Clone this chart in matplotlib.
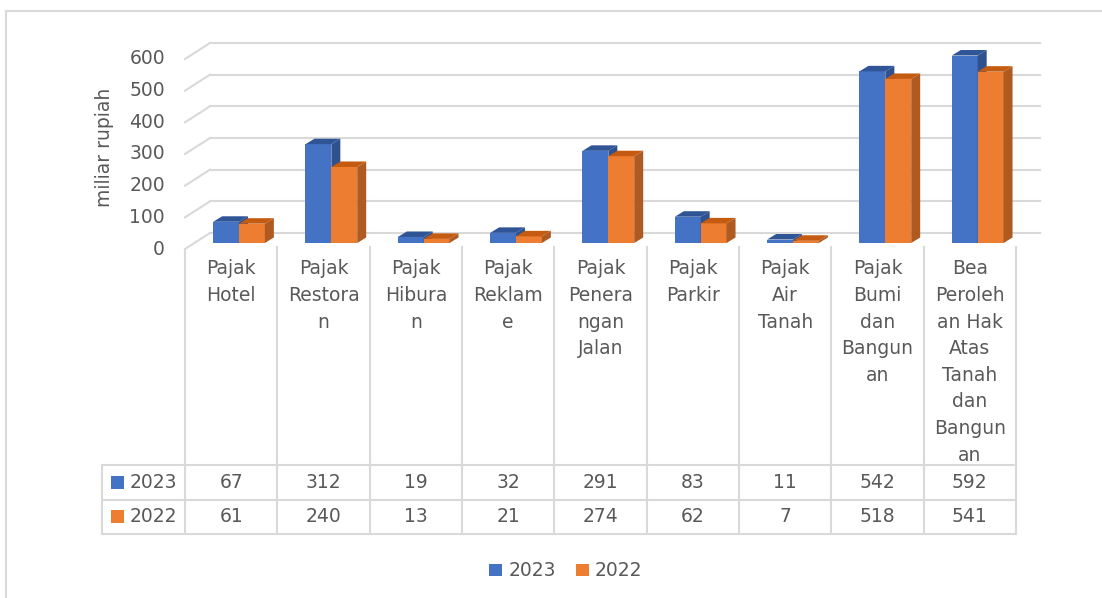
import matplotlib
matplotlib.use('Agg')

import matplotlib.pyplot as plt
from matplotlib.patches import Polygon, Rectangle
from matplotlib.lines import Line2D

categories = ["Pajak\nHotel", "Pajak\nRestora\nn", "Pajak\nHibura\nn", "Pajak\nReklam\ne",
              "Pajak\nPenera\nngan\nJalan", "Pajak\nParkir", "Pajak\nAir\nTanah",
              "Pajak\nBumi\ndan\nBangun\nan",
              "Bea\nPeroleh\nan Hak\nAtas\nTanah\ndan\nBangun\nan"]
series_names = ["2023", "2022"]
values_2023 = [67, 312, 19, 32, 291, 83, 11, 542, 592]
values_2022 = [61, 240, 13, 21, 274, 62, 7, 518, 541]
yticks = [0, 100, 200, 300, 400, 500, 600]

W, H = 1102, 598
front_colors = ["#4472C4", "#ED7D31"]
side_colors = ["#2F528F", "#AE5A21"]
top_colors = ["#2F5597", "#C55A11"]
txt = "#595959"
grid = "#D9D9D9"
fs = 13.5


def fx(px):
    return px / W


def fy(py):
    return 1 - py / H


fig = plt.figure(figsize=(W / 100, H / 100), dpi=100)
fig.patch.set_facecolor("white")

# chart border (only left and top visible in the crop)
fig.add_artist(Line2D([fx(6), fx(6)], [fy(11), 0], color=grid, lw=1.5))
fig.add_artist(Line2D([fx(6), 1], [fy(11), fy(11)], color=grid, lw=1.5))

# plot area: x from 185 to 1016 px, y from 40 to 250 px
ax = fig.add_axes([fx(185), fy(250), fx(1016) - fx(185), fy(40) - fy(250)])
n = len(categories)
ax.set_xlim(-0.5, n - 0.5)
ax.set_ylim(-22.1, 641.0)
ax.axis("off")

upx = n / (1016 - 185)            # x data units per pixel
vpx = (641.0 + 22.1) / 210        # y data units per pixel

back_dx, back_dy = 25 * upx, 10 * vpx
front_dy = -6 * vpx

# gridlines with 3d left wall
for v in yticks:
    ax.plot([-0.5 + back_dx, n - 0.5 + 24 * upx], [v + back_dy, v + back_dy],
            color=grid, lw=1.5, zorder=1, clip_on=False)
    ax.plot([-0.5, -0.5 + back_dx], [v + front_dy, v + back_dy],
            color=grid, lw=1.5, zorder=1, clip_on=False)
    ax.text(-0.5 - 20 * upx, v + front_dy, str(v), ha="right", va="center",
            fontsize=fs, color=txt, clip_on=False)

ax.text(-0.5 - 81 * upx, 320 + front_dy, "miliar rupiah", rotation=90,
        ha="center", va="center", fontsize=fs, color=txt, clip_on=False)

# bars with depth
bw = 0.28
shift = 0.085
ddx, ddy = 9 * upx, 5.5 * vpx
x = list(range(n))
for s, vals in enumerate([values_2023, values_2022]):
    xs = [i + shift + (s - 0.5) * bw for i in x]
    ax.bar(xs, vals, width=bw, color=front_colors[s], zorder=3 + s,
           label=series_names[s])
    for xc, v in zip(xs, vals):
        xl, xr = xc - bw / 2, xc + bw / 2
        ax.add_patch(Polygon([(xr, 0), (xr + ddx, ddy), (xr + ddx, v + ddy), (xr, v)],
                             closed=True, fc=side_colors[s], ec="none", zorder=3 + s))
        ax.add_patch(Polygon([(xl, v), (xl + ddx, v + ddy), (xr + ddx, v + ddy), (xr, v)],
                             closed=True, fc=top_colors[s], ec="none", zorder=3 + s))

# data table below the chart
col_edges = [-0.5 + i for i in range(n + 1)]
tx = ax.get_xaxis_transform()
ytop_px, row1_px, row2_px, ybot_px = 247, 465, 500, 534


def ay(py):
    # axes-fraction y from pixel y
    return (250 - py) / 210


for i, e in enumerate(col_edges):
    y0 = 249 if i == 0 else ytop_px
    ax.plot([e, e], [ay(y0), ay(ybot_px)], color=grid, lw=1.5,
            transform=tx, clip_on=False)
hx0 = -0.5 - 83 * upx
ax.plot([hx0, hx0], [ay(row1_px), ay(ybot_px)], color=grid, lw=1.5, transform=tx, clip_on=False)
for py in [row1_px, row2_px, ybot_px]:
    ax.plot([hx0, n - 0.5], [ay(py), ay(py)], color=grid, lw=1.5, transform=tx, clip_on=False)

for i, lab in enumerate(categories):
    for j, line in enumerate(lab.split("\n")):
        ax.text(i, ay(269 + j * 26.6), line, ha="center", va="center",
                fontsize=fs, color=txt, transform=tx, clip_on=False)

row_centers = [(row1_px + row2_px) / 2, (row2_px + ybot_px) / 2]
for s, vals in enumerate([values_2023, values_2022]):
    yc = ay(row_centers[s])
    for i, v in enumerate(vals):
        ax.text(i, yc, str(v), ha="center", va="center", fontsize=fs,
                color=txt, transform=tx, clip_on=False)
    ax.add_patch(Rectangle((hx0 + 9 * upx, yc - 6.5 / 210), 13 * upx, 13 / 210,
                           fc=front_colors[s], ec="none", transform=tx, clip_on=False))
    ax.text(hx0 + 28 * upx, yc, series_names[s], ha="left", va="center",
            fontsize=fs, color=txt, transform=tx, clip_on=False)

leg = fig.legend(loc="center", bbox_to_anchor=(fx(566), fy(571)), ncol=2,
                 frameon=False, fontsize=fs, handlelength=0.65, handleheight=0.65,
                 handletextpad=0.35, columnspacing=1.1, labelcolor=txt)

fig.savefig("out.png", dpi=100, facecolor="white")
